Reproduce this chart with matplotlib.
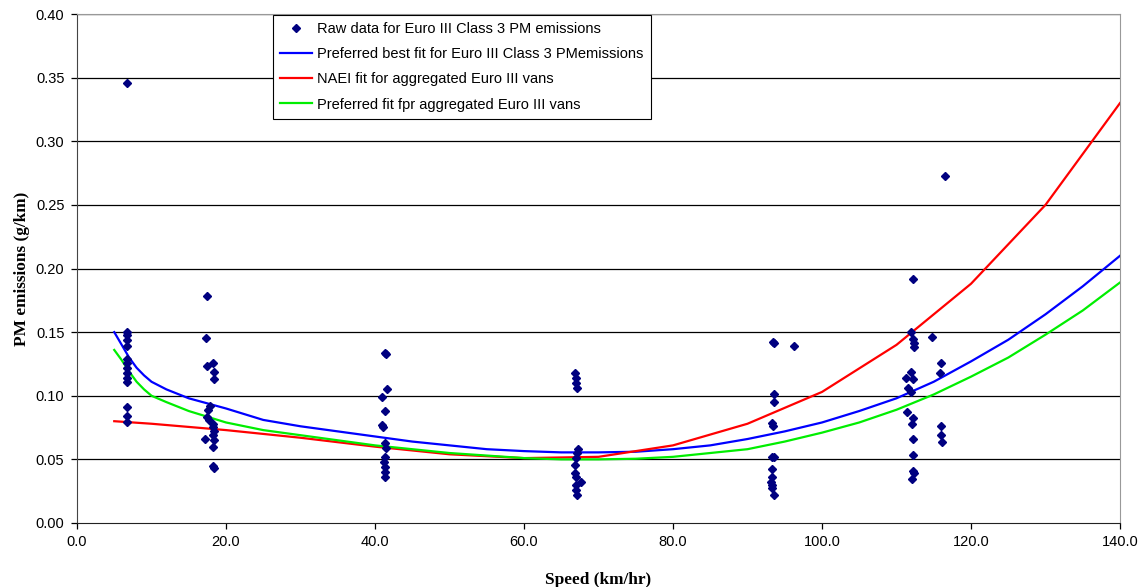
import matplotlib
matplotlib.use("Agg")
import matplotlib.pyplot as plt
from matplotlib.lines import Line2D

# ---- Raw data (speed km/h, PM g/km) ----
raw_speed = (
    [6.7] * 14
    + [17.5, 17.3, 17.4, 18.3, 18.4, 18.4, 17.8, 17.6, 17.4, 17.7, 18.2, 18.3, 18.4, 18.3, 18.4, 18.3, 17.2, 18.3, 18.4]
    + [41.3, 41.5, 41.6, 41.0, 41.3, 41.1, 41.4, 41.5, 41.3, 41.2, 41.3, 41.4, 41.4, 41.0]
    + [66.9, 67.0, 67.0, 67.1, 67.2, 67.1, 67.0, 66.9, 66.9, 67.0, 67.7, 67.0, 67.0, 67.1]
    + [93.4, 93.6, 96.3, 93.5, 93.5, 93.3, 93.4, 93.3, 93.6, 93.3, 93.3, 93.2, 93.3, 93.3, 93.5]
    + [116.5, 112.2, 112.0, 112.2, 112.3, 112.4, 114.7, 116.0, 115.9, 112.0, 111.3, 112.2,
       111.6, 112.0, 111.4, 112.2, 112.1, 112.2, 112.2, 112.2, 112.3, 112.1, 116.0, 116.0, 116.1]
)
raw_pm = (
    [0.346, 0.150, 0.148, 0.144, 0.139, 0.129, 0.1255, 0.1216, 0.1176, 0.1137, 0.111, 0.0914, 0.0843, 0.0790]
    + [0.178, 0.1456, 0.1234, 0.1255, 0.119, 0.113, 0.092, 0.0888, 0.0835, 0.081, 0.078, 0.0757, 0.072,
       0.069, 0.065, 0.060, 0.0657, 0.0448, 0.0435]
    + [0.1335, 0.1328, 0.105, 0.0993, 0.088, 0.0752, 0.0626, 0.0587, 0.0521, 0.0482, 0.0443, 0.0403, 0.0359, 0.077]
    + [0.1176, 0.1137, 0.1098, 0.1058, 0.0579, 0.0548, 0.0508, 0.0456, 0.039, 0.0364, 0.0325, 0.0299, 0.026, 0.022]
    + [0.1420, 0.1412, 0.1393, 0.1014, 0.0953, 0.0783, 0.0762, 0.0521, 0.0515, 0.0424, 0.0364, 0.0325, 0.0299,
       0.0272, 0.022]
    + [0.2727, 0.1917, 0.1504, 0.1443, 0.1417, 0.1386, 0.1464, 0.126, 0.118, 0.119, 0.1137, 0.113,
       0.1058, 0.1032, 0.087, 0.0828, 0.0778, 0.0658, 0.0534, 0.0411, 0.0395, 0.0343, 0.0765, 0.069, 0.0634]
)

# ---- Fitted curves ----
fit_speed = [5, 6, 7, 8, 9, 10, 12, 15, 20, 25, 30, 35, 40, 45, 50, 55, 60, 65, 70, 75, 80,
             85, 90, 95, 100, 105, 110, 115, 120, 125, 130, 135, 140]
best_fit = [0.150, 0.140, 0.130, 0.122, 0.116, 0.111, 0.105, 0.098, 0.090, 0.081, 0.076, 0.072,
            0.068, 0.064, 0.061, 0.058, 0.0565, 0.0555, 0.0555, 0.056, 0.058, 0.061, 0.066, 0.072,
            0.079, 0.088, 0.098, 0.111, 0.127, 0.144, 0.164, 0.186, 0.210]
green_fit = [0.136, 0.128, 0.119, 0.111, 0.105, 0.100, 0.095, 0.088, 0.079, 0.073, 0.069, 0.065,
             0.061, 0.058, 0.055, 0.053, 0.051, 0.050, 0.050, 0.0505, 0.052, 0.055, 0.058, 0.064,
             0.071, 0.079, 0.089, 0.101, 0.115, 0.130, 0.148, 0.167, 0.189]
naei_speed = [5, 10, 20, 30, 40, 50, 60, 70, 80, 90, 100, 110, 120, 130, 140]
naei_fit = [0.080, 0.078, 0.073, 0.067, 0.060, 0.054, 0.051, 0.052, 0.061, 0.078, 0.103, 0.140,
            0.188, 0.250, 0.330]

x_ticks = [0, 20, 40, 60, 80, 100, 120, 140]
x_ticklabels = ["0.0", "20.0", "40.0", "60.0", "80.0", "100.0", "120.0", "140.0"]
y_ticks = [0.0, 0.05, 0.10, 0.15, 0.20, 0.25, 0.30, 0.35, 0.40]
y_ticklabels = ["0.00", "0.05", "0.10", "0.15", "0.20", "0.25", "0.30", "0.35", "0.40"]

fig = plt.figure(figsize=(11.44, 5.87), dpi=100)
ax = fig.add_axes([77 / 1144, 1 - 523 / 587, 1043 / 1144, 509 / 587])

for yv in y_ticks[1:]:
    ax.axhline(yv, color="black", lw=0.9, zorder=1)

ax.plot(raw_speed, raw_pm, linestyle="none", marker="D", ms=4.2, color="#000080", zorder=4)
ax.plot(fit_speed, best_fit, color="#0000ff", lw=1.6, zorder=3)
ax.plot(naei_speed, naei_fit, color="#ff0000", lw=1.6, zorder=3)
ax.plot(fit_speed, green_fit, color="#00ee00", lw=1.6, zorder=3)

ax.set_xlim(0, 140)
ax.set_ylim(0, 0.40)
ax.set_xticks(x_ticks)
ax.set_xticklabels(x_ticklabels)
ax.set_yticks(y_ticks)
ax.set_yticklabels(y_ticklabels)
ax.tick_params(direction="out", length=4, width=0.9, labelsize=10.5, pad=5, colors="black")
for lbl in ax.get_xticklabels() + ax.get_yticklabels():
    lbl.set_fontfamily("Liberation Sans")

ax.spines["top"].set_color("#999999")
ax.spines["right"].set_color("#999999")
ax.spines["left"].set_color("#444444")
ax.spines["bottom"].set_color("#222222")

ax.set_xlabel("Speed (km/hr)", fontfamily="Liberation Serif", fontweight="bold", fontsize=12.4, labelpad=16)
ax.set_ylabel("PM emissions (g/km)", fontfamily="Liberation Serif", fontweight="bold", fontsize=12.4, labelpad=4)

handles = [
    Line2D([], [], linestyle="none", marker="D", ms=4, color="#000080"),
    Line2D([], [], color="#0000ff", lw=1.6),
    Line2D([], [], color="#ff0000", lw=1.6),
    Line2D([], [], color="#00ee00", lw=1.6),
]
labels = [
    "Raw data for Euro III Class 3 PM emissions",
    "Preferred best fit for Euro III Class 3 PMemissions",
    "NAEI fit for aggregated Euro III vans",
    "Preferred fit fpr aggregated Euro III vans",
]
leg = ax.legend(handles, labels, loc="upper left", bbox_to_anchor=(0.188, 0.998),
                prop={"family": "Liberation Sans", "size": 10.5}, frameon=True, fancybox=False,
                edgecolor="black", framealpha=1, borderpad=0.5, labelspacing=0.76,
                handlelength=2.2, handletextpad=0.3, borderaxespad=0)
leg.get_frame().set_linewidth(0.8)
leg.set_zorder(10)

fig.savefig("out.png", dpi=100)
